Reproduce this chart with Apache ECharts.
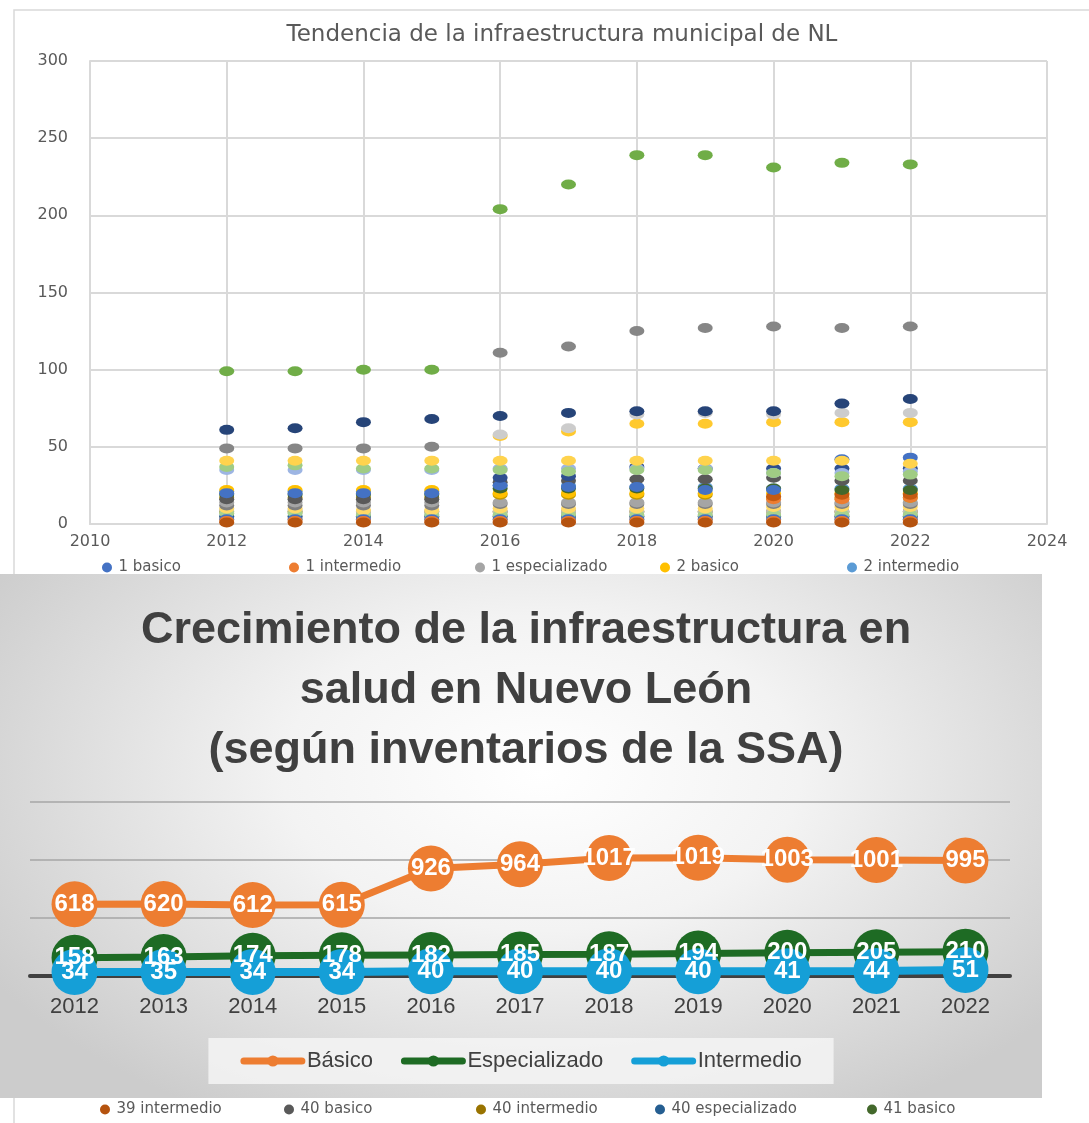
<!DOCTYPE html>
<html><head><meta charset="utf-8">
<script src="https://cdn.jsdelivr.net/npm/echarts@6/dist/echarts.min.js"></script>
<style>
html,body{margin:0;padding:0;width:1089px;height:1123px;overflow:hidden;background:#fff;}
#c1{position:absolute;left:0;top:0;width:1089px;height:1123px;}
#c2{position:absolute;left:0;top:574px;width:1042px;height:524px;
 background:radial-gradient(ellipse 62% 75% at 52% 38%, #ffffff 0%, #f3f3f3 40%, #cccccc 100%);}
</style></head><body>
<div id="c1"></div><div id="c2"></div>
<script>
// ---------- upper chart data (municipal scatter) ----------
const years = [2012,2013,2014,2015,2016,2017,2018,2019,2020,2021,2022];
const v_1_basico        = [3,3,3,3,3,3,3,3,3,3,3];
const v_1_intermedio    = [2,2,2,2,2,2,2,2,2,2,2];
const v_1_especializado = [14,14,14,14,14,14,14,14,14,14,14];
const v_2_basico        = [22,22,22,22,20,20,20,20,20,20,20];
const v_2_intermedio    = [21,21,21,21,25,25,24,24,23,23,23];
const v_6_basico        = [99,99,100,100,204,220,239,239,231,234,233];
const v_6_especializado = [49,49,49,50,111,115,125,127,128,127,128];
const v_26_basico       = [61,62,66,68,70,72,73,73,73,78,81];
const v_46_basico       = [null,null,null,null,58,62,71,72,71,72,72];
const v_19_basico       = [null,null,null,null,57,60,65,65,66,66,66];
const v_21_basico       = [41,41,41,41,41,41,41,41,41,41,39];
const v_31_basico       = [35,35,35,35,36,36,36,36,33,33,34];
const v_48_basico       = [37,38,36,36,35,34,35,35,33,31,32];
const v_18_basico       = [20,20,20,20,25,24,24,22,22,42,43];
const v_25_basico       = [null,null,null,null,30,31,37,36,36,36,36];
const v_40_basico       = [16,16,16,16,27,28,29,29,30,28,28];
const v_41_basico       = [19,19,19,19,23,23,23,23,23,22,22];
const v_10_basico       = [17,17,17,17,19,19,19,19,17,17,17];
const v_39_intermedio   = [1,1,1,1,1,1,1,1,1,1,1];
const v_40_intermedio   = [8,8,8,8,8,8,8,8,8,8,8];
const v_40_especializado= [5,5,5,5,5,5,5,5,5,5,5];
const v_11_basico       = [10,10,9,9,10,10,10,10,11,11,11];
const v_12_basico       = [7,7,6,6,6,6,6,6,6,6,6];
const v_9_basico        = [9,9,8,8,8,8,8,8,8,8,8];
const v_4_basico        = [4,4,4,4,4,4,4,4,4,4,4];
const v_14_basico       = [12,12,12,12,13,13,13,13,13,13,13];
const v_20_basico       = [null,null,null,null,null,null,null,null,16,16,17];
const v_39_basico       = [null,null,null,null,null,null,null,null,18,19,19];
const topLegendNames    = ['1 basico','1 intermedio','1 especializado','2 basico','2 intermedio'];
const bottomLegendNames = ['39 intermedio','40 basico','40 intermedio','40 especializado','41 basico'];

// ---------- lower chart data ----------
const cats = ['2012','2013','2014','2015','2016','2017','2018','2019','2020','2021','2022'];
const basico        = [618,620,612,615,926,964,1017,1019,1003,1001,995];
const especializado = [158,163,174,178,182,185,187,194,200,205,210];
const intermedio    = [34,35,34,34,40,40,40,40,41,44,51];

// series definitions (draw order: first = bottom)
const defs = [
  ['4 basico', v_4_basico, '#F4B183'],
  ['40 especializado', v_40_especializado, '#255E91'],
  ['40 intermedio', v_40_intermedio, '#997300'],
  ['9 basico', v_9_basico, '#BFBFBF'],
  ['12 basico', v_12_basico, '#A9D18E'],
  ['11 basico', v_11_basico, '#FFD966'],
  ['14 basico', v_14_basico, '#7F7F7F'],
  ['1 especializado', v_1_especializado, '#A5A5A5'],
  ['10 basico', v_10_basico, '#C49A00'],
  ['2 intermedio', v_2_intermedio, '#5B9BD5'],
  ['2 basico', v_2_basico, '#FFC000'],
  ['1 basico', v_1_basico, '#4472C4'],
  ['1 intermedio', v_1_intermedio, '#ED7D31'],
  ['20 basico', v_20_basico, '#ED7D31'],
  ['39 basico', v_39_basico, '#C55A11'],
  ['41 basico', v_41_basico, '#43682B'],
  ['40 basico', v_40_basico, '#595959'],
  ['18 basico', v_18_basico, '#4472C4'],
  ['25 basico', v_25_basico, '#2F4F8F'],
  ['31 basico', v_31_basico, '#9DB5E3'],
  ['48 basico', v_48_basico, '#A0CC84'],
  ['21 basico', v_21_basico, '#FFD34D'],
  ['19 basico', v_19_basico, '#FFC92E'],
  ['46 basico', v_46_basico, '#CCCCCC'],
  ['26 basico', v_26_basico, '#264478'],
  ['6 especializado', v_6_especializado, '#868686'],
  ['6 basico', v_6_basico, '#70AD47'],
  ['39 intermedio', v_39_intermedio, '#B5530F']
];

const scatterSeries = defs.map(d => ({
  name: d[0], type: 'scatter',
  symbol: 'circle', symbolSize: [15, 10],
  itemStyle: { color: d[2], opacity: 1 },
  data: years.map((y, i) => d[1][i] == null ? null : [y, d[1][i]]).filter(p => p)
}));

const legTextStyle = { fontSize: 15, color: '#595959', fontFamily: 'DejaVu Sans' };
const topLeft = [102, 289, 475, 660, 847];
const botLeft = [100, 284, 476, 655, 867];
const legends = [];
topLegendNames.forEach((n, i) => legends.push({
  data: [n], left: topLeft[i], top: 560, padding: 0, icon: 'circle',
  itemWidth: 13, itemHeight: 10, itemGap: 0, selectedMode: false, textStyle: legTextStyle
}));
bottomLegendNames.forEach((n, i) => legends.push({
  data: [n], left: botLeft[i], top: 1102, padding: 0, icon: 'circle',
  itemWidth: 13, itemHeight: 10, itemGap: 0, selectedMode: false, textStyle: legTextStyle
}));

const c1 = echarts.init(document.getElementById('c1'), null, { renderer: 'canvas' });
c1.setOption({
  backgroundColor: '#ffffff',
  animation: false,
  title: {
    text: 'Tendencia de la infraestructura municipal de NL',
    left: 557, textAlign: 'center', top: 19,
    textStyle: { fontSize: 23, fontWeight: 'normal', color: '#595959', fontFamily: 'DejaVu Sans' }
  },
  graphic: [{
    type: 'rect', shape: { x: 14, y: 10, width: 1200, height: 1300 },
    style: { fill: 'none', stroke: '#D9D9D9', lineWidth: 1.5 }, silent: true
  }],
  legend: legends,
  grid: { left: 90, right: 42, top: 61, bottom: 599 },
  xAxis: {
    type: 'value', min: 2010, max: 2024, interval: 2,
    axisLine: { show: true, onZero: false, lineStyle: { color: '#D9D9D9', width: 2 } },
    axisTick: { show: false },
    splitLine: { show: true, lineStyle: { color: '#D9D9D9', width: 2 } },
    axisLabel: { fontSize: 16, color: '#595959', fontFamily: 'DejaVu Sans', margin: 10,
      formatter: v => String(v) }
  },
  yAxis: {
    type: 'value', min: 0, max: 300, interval: 50,
    axisLine: { show: true, lineStyle: { color: '#D9D9D9', width: 2 } },
    axisTick: { show: false },
    splitLine: { show: true, lineStyle: { color: '#D9D9D9', width: 2 } },
    axisLabel: { fontSize: 16, color: '#595959', fontFamily: 'DejaVu Sans', margin: 22 }
  },
  series: scatterSeries
});

// ---------- lower chart ----------
const labelStyle = {
  show: true, position: 'inside', color: '#ffffff', fontWeight: 'bold',
  fontSize: 24, fontFamily: 'Liberation Sans, Arial, sans-serif'
};
const c2 = echarts.init(document.getElementById('c2'), null, { renderer: 'canvas' });
c2.setOption({
  backgroundColor: 'transparent',
  animation: false,
  title: {
    text: 'Crecimiento de la infraestructura en\nsalud en Nuevo León\n(según inventarios de la SSA)',
    left: 521, textAlign: 'center', top: 22,
    textStyle: { fontSize: 45, fontWeight: 'bold', color: '#404040', lineHeight: 60,
      fontFamily: 'Liberation Sans, Arial, sans-serif' }
  },
  legend: {
    data: ['Básico', 'Especializado', 'Intermedio'],
    left: 'center', top: 464, padding: [12, 32],
    backgroundColor: 'rgba(245,245,245,0.85)',
    itemWidth: 58, itemHeight: 14, itemGap: 28, selectedMode: false,
    lineStyle: { width: 7, cap: 'round' },
    textStyle: { fontSize: 22, color: '#404040', fontFamily: 'Liberation Sans, Arial, sans-serif' }
  },
  grid: { left: 30, right: 32, top: 228, bottom: 122 },
  xAxis: {
    type: 'category', data: cats, boundaryGap: true,
    axisLine: { show: true, lineStyle: { color: '#404040', width: 4 } },
    axisTick: { show: false },
    axisLabel: { fontSize: 22, color: '#404040', margin: 20, fontFamily: 'Liberation Sans, Arial, sans-serif' }
  },
  yAxis: {
    type: 'value', min: 0, max: 1500, interval: 500,
    axisLine: { show: false }, axisTick: { show: false }, axisLabel: { show: false },
    splitLine: { show: true, lineStyle: { color: '#A6A6A6', width: 1.5 } }
  },
  series: [
    { name: 'Básico', type: 'line', data: basico, symbol: 'circle', symbolSize: 46,
      color: '#ED7D31', lineStyle: { width: 7, color: '#ED7D31' },
      itemStyle: { color: '#ED7D31' }, label: labelStyle, z: 3 },
    { name: 'Especializado', type: 'line', data: especializado, symbol: 'circle', symbolSize: 46,
      color: '#1E6B24', lineStyle: { width: 7, color: '#1E6B24' },
      itemStyle: { color: '#1E6B24' }, label: labelStyle, z: 3 },
    { name: 'Intermedio', type: 'line', data: intermedio, symbol: 'circle', symbolSize: 46,
      color: '#159FD7', lineStyle: { width: 8, color: '#159FD7' },
      itemStyle: { color: '#159FD7' }, label: labelStyle, z: 3 }
  ]
});
</script></body></html>
